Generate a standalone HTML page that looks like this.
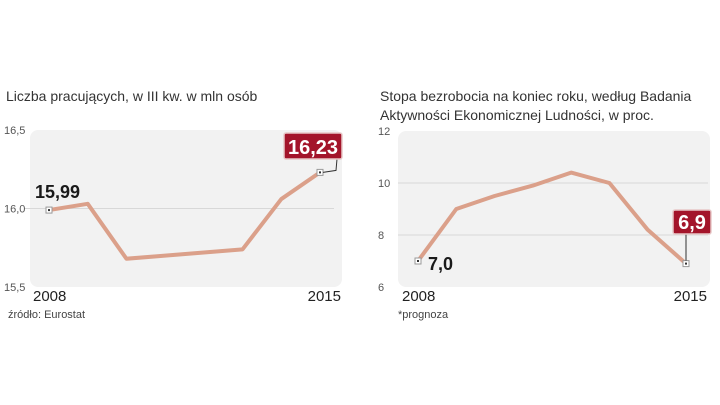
<!DOCTYPE html>
<html><head><meta charset="utf-8">
<style>
body{margin:0;width:720px;height:405px;background:#fff;overflow:hidden;font-family:"Liberation Sans",sans-serif;}
svg{position:absolute;left:0;top:0}
</style></head>
<body>
<svg id="c" width="720" height="405" xmlns="http://www.w3.org/2000/svg" font-family="Liberation Sans, sans-serif">
<text x="6" y="101" font-size="14" fill="#333">Liczba pracujących, w III kw. w mln osób</text>
<text x="380" y="101" font-size="14" fill="#333">Stopa bezrobocia na koniec roku, według Badania</text>
<text x="380" y="120" font-size="14" fill="#333">Aktywności Ekonomicznej Ludności, w proc.</text>
<rect x="30" y="130" width="312" height="157" rx="8" fill="#f2f2f2"/>
<rect x="398" y="131" width="312" height="156" rx="8" fill="#f2f2f2"/>
<g id="g1"></g><g id="g2"></g>
<text x="8" y="318" font-size="11" fill="#444">źródło: Eurostat</text>
<text x="398" y="318" font-size="11" fill="#444">*prognoza</text>
</svg>
<script>
const years=[2008,2009,2010,2011,2012,2013,2014,2015];
const empValues=[15.99,16.03,15.68,15.70,15.72,15.74,16.06,16.23];
const empTicks=[15.5,16.0,16.5];
const empTickLabels=["15,5","16,0","16,5"];
const unValues=[7.0,9.0,9.5,9.9,10.4,10.0,8.2,6.9];
const unTicks=[6,8,10,12];
const unTickLabels=["6","8","10","12"];
const empFirstLabel="15,99", empLastLabel="16,23", unFirstLabel="7,0", unLastLabel="6,9";
const NS="http://www.w3.org/2000/svg";
function mk(g,t,a,txt){const e=document.createElementNS(NS,t);for(const k in a)e.setAttribute(k,a[k]);if(txt!=null)e.textContent=txt;g.appendChild(e);return e;}
function draw(gid,vals,ticks,tl,x0,x1,yMin,yMax,yTop,yBot,tickX,prefix,firstL,lastL,cfg){
  const g=document.getElementById(gid);
  const xs=i=>x0+(x1-x0)*i/(years.length-1);
  const ys=v=>yBot-(v-yMin)/(yMax-yMin)*(yBot-yTop);
  ticks.forEach((t,i)=>{
    if(t!==yMin&&t!==yMax){const l=mk(g,'line',{x1:tickX+20,x2:tickX+330,y1:ys(t),y2:ys(t),stroke:'#d8d8d8','stroke-width':1});
    
    }
    const tx=mk(g,'text',{x:tickX,y:ys(t)+4,'font-size':11,fill:'#555'},tl[i]);
    
    
  });
  const p=mk(g,'polyline',{points:vals.map((v,i)=>xs(i)+','+ys(v)).join(' '),fill:'none',stroke:'#dba08a','stroke-width':4,'stroke-linejoin':'round'});
  
  
  [0,years.length-1].forEach(i=>{
    const m=mk(g,'rect',{x:xs(i)-3,y:ys(vals[i])-3,width:6,height:6,fill:'#fff',stroke:'#999','stroke-width':1});
    
    
    mk(g,'rect',{x:xs(i)-1,y:ys(vals[i])-1,width:2,height:2,fill:'#333'});
  });
  const y0=mk(g,'text',{x:x0-16,y:301,'font-size':15,fill:'#222'},String(years[0]));
  
  
  const y1=mk(g,'text',{x:x1+21,y:301,'font-size':15,fill:'#222','text-anchor':'end'},String(years[years.length-1]));
  
  
  const fl=mk(g,'text',{x:xs(0)+cfg.fdx,y:ys(vals[0])+cfg.fdy,'font-size':18,'font-weight':'bold',fill:'#1a1a1a'},firstL);
  
  
  const lx=xs(vals.length-1), ly=ys(vals[vals.length-1]);
  mk(g,'polyline',{points:cfg.lead(lx,ly),fill:'none',stroke:'#333','stroke-width':1});
  const b=mk(g,'rect',{x:cfg.bx,y:cfg.by,width:cfg.bw,height:cfg.bh,rx:2,fill:'#a3142a',stroke:'#e8c8c8','stroke-width':1.5});
  
  
  const bt=mk(g,'text',{x:cfg.bx+cfg.bw/2,y:cfg.by+cfg.bh-5,'font-size':20,'font-weight':'bold',fill:'#fff','text-anchor':'middle'},lastL);
  
  
}
draw('g1',empValues,empTicks,empTickLabels,49,320,15.5,16.5,130,287,4,'employment',empFirstLabel,empLastLabel,
 {fdx:-14,fdy:-12,bx:284,by:133,bw:58,bh:26,lead:(x,y)=>`${x+3},${y} ${x+16},${y-2} ${x+17},159`});
draw('g2',unValues,unTicks,unTickLabels,418,686,6,12,131,287,378,'unemployment',unFirstLabel,unLastLabel,
 {fdx:10,fdy:9,bx:673,by:210,bw:38,bh:24,lead:(x,y)=>`${x},${y-3} ${x},234`});
</script>
</body></html>
